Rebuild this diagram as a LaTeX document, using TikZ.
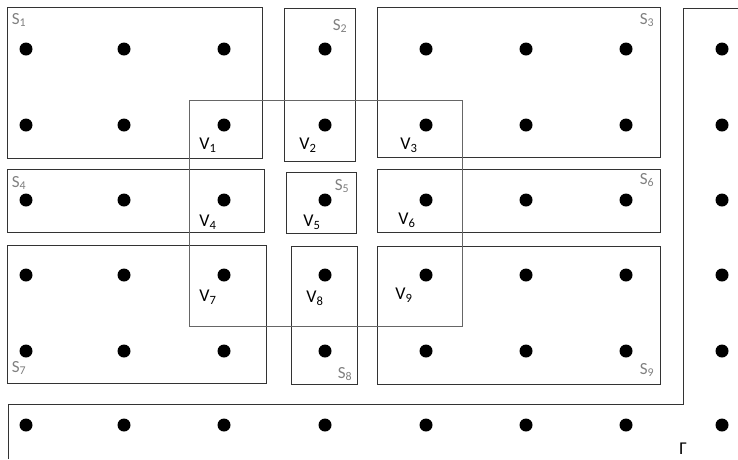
\documentclass[tikz,border=0pt]{standalone}
\usepackage{fontspec}
\setmainfont{Carlito}
\usetikzlibrary{calc,positioning}

\tikzset{
  site/.style={circle, fill=black, inner sep=0pt, minimum size=13pt},
  subbox/.style={draw=black!80, line width=0.9pt},
  vbox/.style={draw=black!60, line width=0.9pt},
  slabel/.style={text=black!50, font=\fontsize{17}{17}\selectfont, inner sep=0pt},
  vlabel/.style={text=black, font=\fontsize{18}{18}\selectfont, inner sep=0pt}
}

\begin{document}
\begin{tikzpicture}[x=1pt, y=-1pt]

    \useasboundingbox (0,0) rectangle (738,459);

    % lattice sites
    \foreach \cx [count=\i] in {26,124,224,325,426,526,626,722}
      \foreach \cy [count=\j] in {49,125,200,275,351,425}
        \node[site] (p\i\j) at (\cx,\cy) {};

    % domain boundary
    \coordinate (G1) at (8,459);
    \coordinate (G2) at (8,404);
    \coordinate (G3) at (683,404);
    \coordinate (G4) at (683,8);
    \coordinate (G5) at (738,8);
    \draw[subbox] (G1) -- (G2) -- (G3) -- (G4) -- (G5);

    % subdomains
    \draw[subbox] (7,7) rectangle (262,158);
    \draw[subbox] (284,8) rectangle (355,161);
    \draw[subbox] (377,7) rectangle (660,157);
    \draw[subbox] (7,169) rectangle (264,232);
    \draw[subbox] (286,172) rectangle (356,233);
    \draw[subbox] (377,169) rectangle (660,232);
    \draw[subbox] (7,245) rectangle (266,383);
    \draw[subbox] (291,246) rectangle (357,384);
    \draw[subbox] (377,246) rectangle (660,384);

    % window
    \draw[vbox] (189,100) rectangle (462,326);

    % labels
    \node[slabel] (s1) at (19,20) {S\textsubscript{1}};
    \node[slabel] (s2) at (340,26) {S\textsubscript{2}};
    \node[slabel] (s3) at (647,20) {S\textsubscript{3}};
    \node[slabel] (s4) at (19,183) {S\textsubscript{4}};
    \node[slabel] (s5) at (342,186) {S\textsubscript{5}};
    \node[slabel] (s6) at (647,180) {S\textsubscript{6}};
    \node[slabel] (s7) at (19,368) {S\textsubscript{7}};
    \node[slabel] (s8) at (345,374) {S\textsubscript{8}};
    \node[slabel] (s9) at (647,370) {S\textsubscript{9}};

    \node[vlabel] (v1) at (208,145) {V\textsubscript{1}};
    \node[vlabel] (v2) at (308,145) {V\textsubscript{2}};
    \node[vlabel] (v3) at (409,145) {V\textsubscript{3}};
    \node[vlabel] (v4) at (208,222) {V\textsubscript{4}};
    \node[vlabel] (v5) at (312,222) {V\textsubscript{5}};
    \node[vlabel] (v6) at (407,220) {V\textsubscript{6}};
    \node[vlabel] (v7) at (208,297) {V\textsubscript{7}};
    \node[vlabel] (v8) at (315,298) {V\textsubscript{8}};
    \node[vlabel] (v9) at (404,295) {V\textsubscript{9}};

    \node[vlabel] (gamma) at (683,449) {Γ};

\end{tikzpicture}
\end{document}
